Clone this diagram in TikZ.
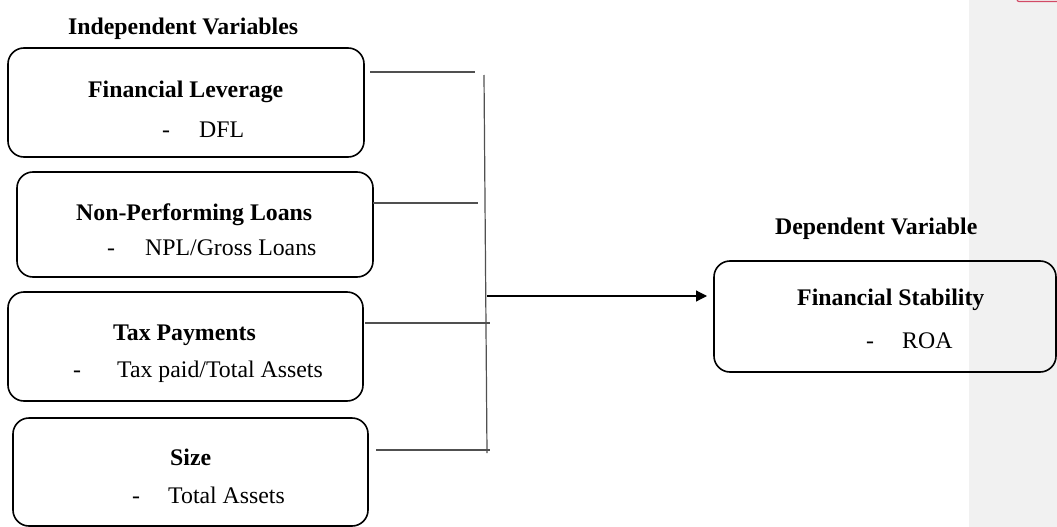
\documentclass[tikz,border=0pt]{standalone}
\usepackage{fontspec}
\setmainfont{Liberation Serif}
\usetikzlibrary{arrows.meta}
\definecolor{panelgrey}{HTML}{F1F1F1}
\definecolor{linegrey}{HTML}{505050}
\definecolor{markred}{HTML}{D24A66}
\begin{document}
\begin{tikzpicture}[x=1pt,y=-1pt,
  varbox/.style={draw=black,line width=1.6pt,rounded corners=16pt,inner sep=0pt},
  title/.style={font=\fontsize{23.8}{26}\selectfont\bfseries,inner sep=0pt,anchor=base west},
  item/.style={font=\fontsize{23.8}{26}\selectfont,inner sep=0pt,anchor=base west},
  conn/.style={draw=linegrey,line width=1.2pt}]
\useasboundingbox (0,0) rectangle (1057,527);
\fill[panelgrey] (969,0) rectangle (1057,527);
\draw[markred,line width=1.2pt,rounded corners=2pt] (1017,-8) rectangle (1062,1.5);
% independent variable boxes
\node[varbox,minimum width=356pt,minimum height=109pt] (fl) at (186,102.5) {};
\node[varbox,minimum width=356pt,minimum height=105pt] (npl) at (195,224.5) {};
\node[varbox,minimum width=355pt,minimum height=109pt] (tax) at (185.5,346.5) {};
\node[varbox,minimum width=355pt,minimum height=108pt] (size) at (190.5,472) {};
% dependent variable box
\node[varbox,minimum width=342pt,minimum height=111pt] (fs) at (885,316.5) {};
% headings
\node[title] (indep) at (68,35) {Independent Variables};
\node[title] (dep) at (775,234) {Dependent Variable};
% box texts
\node[title] (flt) at (88,97) {Financial Leverage};
\node[item] (fld) at (162,137) {-};
\node[item] (fli) at (199,137) {DFL};
\node[title] (nplt) at (76,220) {Non-Performing Loans};
\node[item] (npld) at (107,255) {-};
\node[item] (npli) at (145,255) {NPL/Gross Loans};
\node[title] (taxt) at (113,340) {Tax Payments};
\node[item] (taxd) at (73,377) {-};
\node[item] (taxi) at (117,377) {Tax paid/Total Assets};
\node[title] (sizet) at (170,465) {Size};
\node[item] (sized) at (132,503) {-};
\node[item] (sizei) at (168,503) {Total Assets};
\node[title] (fst) at (797,305) {Financial Stability};
\node[item] (fsd) at (866,348) {-};
\node[item] (fsi) at (902,348) {ROA};
% connector points
\coordinate (a1) at (370,72);   \coordinate (b1) at (475,72);
\coordinate (a2) at (373,203);  \coordinate (b2) at (478,203);
\coordinate (a3) at (365,323);  \coordinate (b3) at (490,323);
\coordinate (a4) at (376,450);  \coordinate (b4) at (490,450);
\coordinate (vt) at (484,75);   \coordinate (vb) at (487,453);
\coordinate (ar) at (487,296);  \coordinate (tip) at (707,296);
\draw[conn] (a1) -- (b1);
\draw[conn] (a2) -- (b2);
\draw[conn] (a3) -- (b3);
\draw[conn] (a4) -- (b4);
\draw[conn] (vt) -- (vb);
\draw[draw=black,line width=1.2pt,-{Triangle[length=11pt,width=11pt]}] (ar) -- (tip);
\end{tikzpicture}
\end{document}
